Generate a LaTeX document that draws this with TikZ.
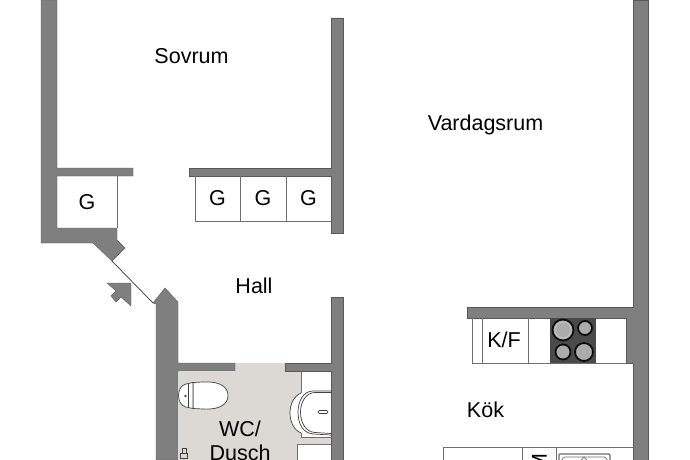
\documentclass[tikz,border=0pt]{standalone}
\usepackage{fontspec}
\setmainfont{Liberation Sans}
\definecolor{wallc}{HTML}{7F7F7F}
\definecolor{linec}{HTML}{6E6E6E}
\definecolor{tilec}{HTML}{DCD8D4}
\definecolor{hobc}{HTML}{4A4A4A}
\tikzset{
  x=1pt,y=-1pt,
  wall/.style={fill=wallc,draw=wallc!70!black,line width=.4pt},
  fitline/.style={draw=linec,line width=.9pt},
  thinline/.style={draw=black!75,line width=.7pt},
  room/.style={font=\fontsize{21.5}{24}\selectfont,text=black,align=center,inner sep=0pt},
  ringa/.style={draw=black!95,line width=1.8pt,fill=gray!65}
}
\begin{document}
\begin{tikzpicture}
\useasboundingbox (0,0) rectangle (690,460);
\fill[white] (0,0) rectangle (690,460);
% wet room floor
\fill[tilec] (179,372) rectangle (331,460);
\fill[tilec] (235,363) rectangle (285,372);
\fill[white] (301,372) rectangle (331,437);
\fill[white] (297,444) rectangle (331,460);
% walls
\path[wall] (41,0) -- (57,0) -- (57,168) -- (133,168) -- (133,176) -- (57,176) -- (57,228) -- (117,228) -- (117,240) -- (125,248) -- (112,261) -- (93,243) -- (41,243) -- cycle;
\path[wall] (189,168) -- (331,168) -- (331,18) -- (343,18) -- (343,233) -- (331,233) -- (331,176) -- (189,176) -- cycle;
\path[wall] (156,304) -- (153,303) -- (165,288) -- (178,302) -- (178,363) -- (235,363) -- (235,371) -- (178,371) -- (178,460) -- (156,460) -- cycle;
\path[wall] (331,297) -- (343,297) -- (343,460) -- (331,460) -- (331,371) -- (285,371) -- (285,363) -- (331,363) -- cycle;
\path[wall] (633,0) -- (648,0) -- (648,460) -- (633,460) -- (633,363) -- (626,363) -- (626,318) -- (467,318) -- (467,307) -- (633,307) -- cycle;
% door
\coordinate (doorA) at (112,261);
\coordinate (doorB) at (153,303);
\draw[black!80,line width=.7pt] (doorA) -- (doorB);
% entrance arrow
\path[fill=wallc,draw=wallc!70!black,line width=.4pt] (107,283) -- (131,283) -- (131,306) -- (121,297) -- (116,302) -- (111,296) -- (116,291) -- cycle;
% wardrobes
\draw[fitline] (117,176) -- (117,228);
\draw[fitline] (195,176) -- (195,221) -- (331,221);
\draw[fitline] (240.5,176) -- (240.5,221);
\draw[fitline] (286,176) -- (286,221);
% kitchen top
\draw[fitline] (472,318) -- (472,363) -- (626,363);
\draw[fitline] (482,318) -- (482,363);
\draw[fitline] (528,318) -- (528,363);
\fill[hobc] (550,318) rectangle (596,363);
\path[ringa] (563,330) circle (10.5);
\draw[gray!40,line width=.6pt] (563,330) circle (8);
\path[ringa] (585,328) circle (7);
\path[ringa] (563,352) circle (7.5);
\path[ringa] (584,352) circle (9);
% kitchen bottom
\draw[fitline] (443,447.7) -- (633,447.7);
\draw[fitline] (443,447.7) -- (443,460);
\draw[fitline] (522,447.7) -- (522,460);
\draw[fitline] (556,447.7) -- (556,460);
\draw[draw=linec,line width=1.3pt,rounded corners=1pt] (559,462) -- (559,454) -- (610,454) -- (610,462);
\draw[draw=linec,line width=.7pt,rounded corners=3pt] (562,464) -- (562,457) -- (607,457) -- (607,464);
\draw[draw=linec,line width=.7pt] (578,464) -- (584,457) -- (590,464);
% toilet
\draw[thinline,fill=white] (193,382.5) -- (203,382) .. controls (220,381) and (228,387) .. (228,395.5) .. controls (228,404) and (220,410) .. (203,409) -- (193,408.5) -- cycle;
\draw[thinline,fill=white] (193,382.5) -- (186,384) .. controls (176,386) and (176,405) .. (186,407) -- (193,408.5) -- cycle;
\draw[thinline] (188,383.5) -- (188,407.5);
\fill[black!70] (185.5,396) circle (1.4);
% sink
\draw[fitline] (301,372) -- (301,393);
\draw[fitline] (301,433) -- (301,437) -- (331,437);
\draw[thinline,fill=white] (301,393) .. controls (294,396) and (290,404) .. (290,413) .. controls (290,422) and (294,430) .. (301,433);
\fill[white] (301,393) rectangle (331,433);
\draw[thinline] (331,391) -- (313,391) .. controls (303,391) and (298,402) .. (298,412) .. controls (298,424) and (303,433) .. (313,434) -- (331,435);
\draw[thinline] (331,392.5) -- (315,392.5) .. controls (306,392.5) and (300.5,402) .. (300.5,412) .. controls (300.5,423) and (306,432) .. (315,432.5) -- (331,433.5);
\draw[thinline,fill=white,rounded corners=1.4pt] (318,410.5) rectangle (328,413.5);
% shower edge
\draw[fitline] (297,460) -- (297,444) -- (331,444);
% tap
\draw[thinline] (182,448) rectangle (186,453) (180.5,453) rectangle (187,458);
% labels
\node[room] (sovrum) at (191.5,56) {Sovrum};
\node[room] (vardag) at (485.5,124.5) {Vardagsrum};
\node[room] (hall) at (254,285.5) {Hall};
\node[room] (kok) at (485.5,409.5) {Kök};
\node[room] (wc) at (240,441) {WC/\\Dusch};
\node[room] (g1) at (87,202) {G};
\node[room] (g2) at (217.5,198.5) {G};
\node[room] (g3) at (263,198.5) {G};
\node[room] (g4) at (308.5,198.5) {G};
\node[room] (kf) at (504,340) {K/F};
\node[room,rotate=90] (m) at (539.5,463) {M};
\end{tikzpicture}
\end{document}
